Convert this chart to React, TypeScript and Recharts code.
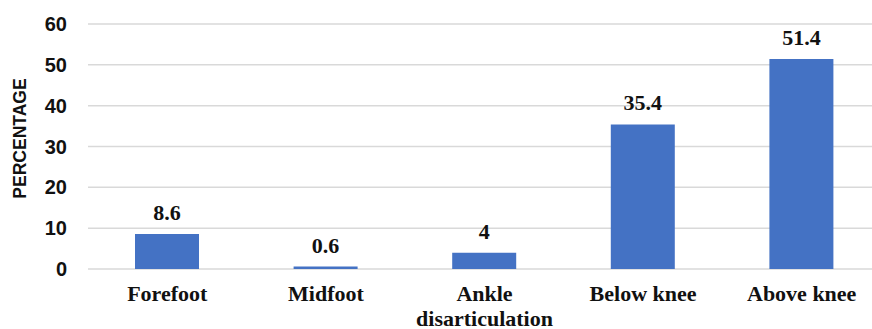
import React from 'react';
import { BarChart, Bar, XAxis, YAxis, CartesianGrid, LabelList } from 'recharts';

const categories = ['Forefoot', 'Midfoot', 'Ankle\ndisarticulation', 'Below knee', 'Above knee'];
const percentages = [8.6, 0.6, 4, 35.4, 51.4];
const yTicks = [0, 10, 20, 30, 40, 50, 60];

const data = categories.map((c, i) => ({ name: c, value: percentages[i] }));

const SERIF = 'Liberation Serif, Times New Roman, serif';
const SANS = 'Liberation Sans, Arial, sans-serif';

const XTick = (props: any) => {
  const { x, y, payload } = props;
  const lines = String(payload.value).split('\n');
  return (
    <text x={x} y={y} textAnchor="middle" style={{ fontFamily: SERIF, fontWeight: 700, fontSize: 22 }} fill="#111">
      {lines.map((l, i) => (
        <tspan key={i} x={x} dy={i === 0 ? 32 : 25}>{l}</tspan>
      ))}
    </text>
  );
};

const YLabel = (props: any) => {
  const vb = props.viewBox || {};
  const cx = 20;
  const cy = (vb.y ?? 24) + (vb.height ?? 245) / 2 - 8;
  return (
    <text x={cx} y={cy} transform={`rotate(-90, ${cx}, ${cy})`} textAnchor="middle" dominantBaseline="central"
      style={{ fontFamily: SANS, fontWeight: 700, fontSize: 17.5 }} fill="#111">PERCENTAGE</text>
  );
};

const ValueLabel = (props: any) => {
  const { x, y, width, value } = props;
  return (
    <text x={x + width / 2} y={y - 14} textAnchor="middle" style={{ fontFamily: SERIF, fontWeight: 700, fontSize: 22 }} fill="#111">
      {value}
    </text>
  );
};

export default function App() {
  return (
    <div style={{ position: 'absolute', left: 0, top: 0, width: 872, height: 329, overflow: 'hidden', background: '#fff' }}>
      <BarChart width={881} height={329} data={data} margin={{ top: 24, right: 0, bottom: 0, left: 0 }}>
        <CartesianGrid vertical={false} stroke="#d9d9d9" strokeWidth={1.5} />
        <XAxis dataKey="name" axisLine={false} tickLine={false} height={60} tick={<XTick />} interval={0} tickSize={0} tickMargin={0} />
        <YAxis width={88} domain={[0, 60]} ticks={yTicks} axisLine={false} tickLine={false} tickSize={0} tickMargin={21}
          tick={{ style: { fontFamily: SANS, fontWeight: 700, fontSize: 20 }, fill: '#111' }}
          label={<YLabel />} />
        <Bar dataKey="value" fill="#4472C4" barSize={64} isAnimationActive={false}>
          <LabelList dataKey="value" content={<ValueLabel />} />
        </Bar>
      </BarChart>
    </div>
  );
}
